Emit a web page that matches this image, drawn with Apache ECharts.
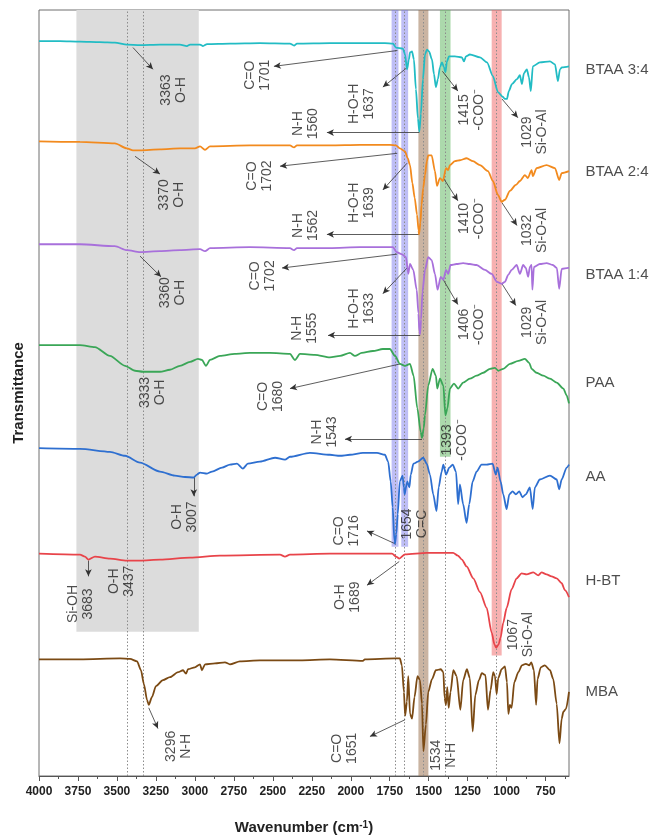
<!DOCTYPE html>
<html>
<head>
<meta charset="utf-8">
<script src="https://cdn.jsdelivr.net/npm/echarts@6/dist/echarts.min.js"></script>
<style>
  html, body { margin: 0; padding: 0; background: #fff; }
  #main { width: 652px; height: 840px; }
</style>
</head>
<body>
<div id="main"></div>
<script>
// FTIR spectra, stacked with vertical offsets: [wavenumber (cm-1), offset transmittance]
const btaa34 = [[4000,743.5],[3865,743.5],[3737,743],[3609,742.5],[3513,742],[3436,740],[3352,739.5],[3224,740],[3096,740],[3051,738.5],[3031,740],[2967,740],[2948,738.5],[2922,740.5],[2775,741],[2583,741.5],[2390,741],[2364,739],[2345,741],[2134,741.5],[1941,741.5],[1781,741.5],[1729,741],[1710,737],[1665,736],[1652,730],[1639,715],[1627,725],[1620,732],[1607,733],[1595,725],[1582,695],[1569,665],[1560,652],[1550,670],[1537,705],[1524,730],[1511,735],[1498,733],[1479,725],[1466,710],[1454,697],[1441,705],[1428,717],[1415,722],[1402,717],[1393,712],[1383,723],[1370,728],[1332,728],[1287,727],[1274,723],[1261,728],[1236,730],[1171,727],[1126,722],[1088,708],[1056,692],[1024,687],[1011,685],[998,685],[986,693],[966,700],[934,705],[915,709],[902,700],[889,711],[870,715],[857,707],[845,693],[832,718],[787,722],[722,723],[690,720],[671,703],[658,715],[645,717],[600,718]];

const btaa24 = [[4000,642],[3737,641.5],[3513,640],[3436,635],[3397,633],[3352,633],[3224,634],[3096,635],[3000,635],[2967,637],[2935,633.5],[2903,637],[2647,638],[2390,638],[2364,636],[2345,638],[2134,638],[1941,638.5],[1749,638.5],[1710,638],[1685,635],[1652,632],[1635,625],[1620,618],[1605,600],[1590,585],[1575,568],[1565,552],[1562,548],[1553,560],[1546,578],[1535,595],[1524,608],[1512,622],[1503,628],[1481,628],[1460,612],[1447,597],[1428,605],[1409,602],[1389,615],[1375,613],[1364,618],[1332,622],[1300,623],[1257,625],[1216,622],[1171,618],[1120,612],[1088,602],[1056,588],[1032,581],[1011,583],[979,592],[941,598],[915,602],[883,608],[864,605],[840,613],[832,607],[808,615],[744,618],[690,615],[663,603],[647,610],[600,612]];

const btaa14 = [[4000,538],[3737,538],[3513,536],[3436,532],[3352,530],[3224,531],[3096,532],[2967,533],[2935,531],[2903,534],[2647,535],[2390,534],[2364,532],[2345,534],[2134,534],[1941,535],[1729,535],[1706,530],[1674,528],[1646,525],[1631,508],[1620,518],[1599,512],[1577,492],[1566,468],[1560,450],[1555,447],[1549,462],[1540,490],[1524,512],[1503,525],[1481,522],[1460,508],[1443,492],[1423,505],[1406,502],[1389,512],[1375,508],[1360,517],[1322,518],[1279,519],[1236,518],[1193,517],[1139,512],[1096,508],[1062,500],[1032,498],[1011,500],[990,507],[968,512],[936,517],[915,508],[894,517],[877,514],[862,505],[851,515],[840,517],[835,492],[825,515],[787,518],[744,519],[704,517],[678,514],[663,493],[647,513],[605,514],[600,514]];

const paa = [[4000,436],[3737,436],[3641,434],[3545,425],[3448,415],[3384,410],[3333,409],[3224,409],[3160,411],[3096,415],[3031,419],[2980,422],[2955,421],[2929,415],[2903,421],[2839,425],[2743,427],[2647,428],[2519,428],[2390,427],[2358,421],[2326,427],[2230,426],[2134,423.5],[2069,425],[2005,428],[1973,425],[1930,428],[1858,430],[1794,432],[1749,432],[1716,425],[1685,417],[1652,415],[1620,417],[1597,405],[1573,372],[1551,348],[1543,342],[1532,352],[1524,365],[1503,395],[1475,412],[1454,405],[1445,392],[1428,402],[1406,395],[1393,365],[1380,372],[1364,392],[1338,397],[1311,392],[1279,398],[1236,402],[1193,405],[1150,408],[1107,412],[1075,413],[1054,410],[1022,412],[979,417],[925,420],[883,422],[855,418],[840,412],[808,408],[765,405],[722,402],[679,398],[636,392],[615,385],[600,377]];

const aa = [[4000,331.7],[3737,331],[3545,328],[3448,324],[3352,317],[3224,308],[3128,304],[3064,302.5],[3007,302],[2987,305],[2967,307],[2922,306],[2890,308],[2826,312],[2775,315],[2730,316],[2692,311],[2660,316],[2583,318],[2486,322],[2422,320],[2390,323],[2262,327],[2134,325],[2069,324],[2005,325],[1922,327],[1832,327],[1781,325],[1760,318],[1744,298],[1731,272],[1720,238],[1716,235],[1708,245],[1699,265],[1685,298],[1668,304],[1659,292],[1654,285],[1650,285],[1637,298],[1624,292],[1615,305],[1598,316],[1569,318],[1535,322],[1513,316],[1492,305],[1471,285],[1450,268],[1436,292],[1417,308],[1406,315],[1389,305],[1368,312],[1346,315],[1325,308],[1311,275],[1300,295],[1279,275],[1257,256],[1240,275],[1218,298],[1193,308],[1161,315],[1128,315],[1090,316],[1070,305],[1058,312],[1039,298],[1022,285],[1000,270],[983,285],[962,288],[941,285],[919,288],[898,282],[877,285],[851,292],[833,270],[819,292],[787,300],[722,304],[679,300],[663,290],[647,300],[615,312],[600,315]];

const hbt = [[4000,225],[3737,224],[3705,222],[3683,219],[3641,222],[3545,220],[3437,218],[3352,218],[3224,219],[3031,221],[2839,223],[2454,224],[2422,222],[2390,224],[2134,225],[1736,225],[1706,221.7],[1689,220],[1652,224.3],[1513,225.7],[1343,225.7],[1313,223],[1287,219],[1257,212],[1214,200],[1171,186],[1128,170],[1096,145],[1078,133],[1067,130],[1052,133],[1039,140],[1022,155],[1000,170],[968,189],[936,200],[904,205],[872,204],[829,206],[797,203],[776,206],[744,204],[712,202],[679,200],[647,195],[626,188],[600,181]];

const mba = [[4000,118],[3737,118],[3480,119],[3416,118.5],[3371,116],[3346,107],[3327,93],[3307,77],[3296,72],[3275,80],[3250,91],[3205,97],[3160,100],[3108,105],[3076,107],[3057,103.5],[3044,108],[3000,110],[2967,113],[2955,107],[2935,113],[2871,114],[2807,115],[2775,113],[2711,116],[2583,117],[2326,117],[2134,118],[1922,116.5],[1910,118],[1710,119],[1685,119],[1672,112],[1659,85],[1651,61],[1640,75],[1631,101],[1620,63],[1607,58],[1591,80],[1572,101],[1556,97],[1543,73],[1534,25],[1518,52],[1503,85],[1479,98],[1454,107],[1422,108],[1406,105],[1398,79],[1389,72],[1381,90],[1372,69],[1360,85],[1342,107],[1321,101],[1297,67],[1279,97],[1255,108],[1236,99],[1218,45],[1201,82],[1178,97],[1159,104],[1136,102],[1120,67],[1103,87],[1086,105],[1075,101],[1064,83],[1054,99],[1032,108],[1011,111],[998,95],[989,63],[979,72],[968,69],[951,95],[925,105],[902,112],[877,113.5],[855,112],[842,115],[825,107],[811,72],[802,98],[781,110],[755,112],[722,107],[701,98],[679,73],[661,33],[647,58],[636,65],[619,68],[600,85]];

const sampleNames = ['BTAA 3:4', 'BTAA 2:4', 'BTAA 1:4', 'PAA', 'AA', 'H-BT', 'MBA'];
const sampleData = [btaa34, btaa24, btaa14, paa, aa, hbt, mba];
const sampleColors = ['#22bcc4', '#f28a1e', '#a870db', '#3aa657', '#2e6fd0', '#e8444a', '#7b4a14'];
// vertical level of each sample name, in the offset transmittance scale
const sampleNameLevels = [714, 611, 507, 398, 302.5, 197, 85];

// x-axis tick labels
const tickLabels = [750, 1000, 1250, 1500, 1750, 2000, 2250, 2500, 2750, 3000, 3250, 3500, 3750, 4000];
const minorTicks = [625, 875, 1125, 1375, 1625, 1875, 2125, 2375, 2625, 2875, 3125, 3375, 3625, 3875];

// reference wavenumbers marked with dotted lines
const refLines = [3437, 3333, 1716, 1654, 1534, 1393, 1067];

// highlighted bands: [from wn, to wn, lower level, upper level]
const greyBand = [3760, 2975, 146, 775];
const colourBands = [
  [1738, 1694, 232, 775],
  [1676, 1632, 232, 775],
  [1566, 1502, 0, 775],
  [1428, 1360, 323, 775],
  [1096, 1032, 122, 775]
];
const bandColours = ['rgba(110,110,235,0.45)', 'rgba(110,110,235,0.45)', 'rgba(150,105,70,0.5)', 'rgba(90,180,90,0.5)', 'rgba(240,100,100,0.5)'];

// peak assignments: [wn, level, text]
const peakNotes = [
  [3134, 694, '3363\nO-H'], [2595, 709, 'C=O\n1701'], [2287, 660, 'N-H\n1560'], [1931, 680, 'H-O-H\n1637'],
  [1223, 674, '1415\n-COO\u207B'], [819, 651.5, '1029\nSi-O-Al'],
  [3147, 588, '3370\nO-H'], [2582, 607, 'C=O\n1702'], [2287, 557, 'N-H\n1562'], [1931, 580, 'H-O-H\n1639'],
  [1223, 564, '1410\n-COO\u207B'], [819, 552, '1032\nSi-O-Al'],
  [3140, 489, '3360\nO-H'], [2563, 506, 'C=O\n1702'], [2294, 453, 'N-H\n1555'], [1928, 473, 'H-O-H\n1633'],
  [1223, 457, '1406\n-COO\u207B'], [819, 459, '1029\nSi-O-Al'],
  [3269, 388, '3333\nO-H'], [2512, 384, 'C=O\n1680'], [2166, 348, 'N-H\n1543'], [1332, 340, '1393\n-COO\u207B'],
  [3064, 262, 'O-H\n3007'], [2024, 248, 'C=O\n1716'], [1588, 255, '1654\nC=C'],
  [3731, 174, 'Si-OH\n3683'], [3468, 197, 'O-H\n3437'], [2018, 181, 'O-H\n1689'], [908, 143, '1067\nSi-O-Al'],
  [3102, 30, '3296\nN-H'], [2037, 28, 'C=O\n1651'], [1402, 21, '1534\nN-H']
];

// leader arrows from a peak to its note: [from wn, from level, to wn, to level]
const noteArrows = [
  [3397, 737, 3269, 715], [1701, 734, 2493, 718], [1560, 651, 2153, 651], [1637, 717, 1794, 697],
  [1412, 713, 1313, 693], [1030, 685, 928, 666],
  [3384, 627, 3224, 609], [1702, 630, 2454, 617], [1562, 548, 2153, 548], [1639, 620, 1794, 593],
  [1406, 605, 1313, 582], [1030, 580, 934, 557],
  [3352, 526, 3217, 505], [1702, 528, 2441, 514], [1555, 446, 2146, 446], [1633, 515, 1794, 488],
  [1406, 502, 1313, 477], [1030, 498, 941, 476],
  [1680, 417, 2390, 392], [1543, 341, 2037, 341],
  [3007, 303, 3007, 283], [1716, 235, 1896, 248],
  [3683, 218, 3683, 202], [1689, 217, 1896, 193],
  [3296, 69, 3237, 48], [1651, 57, 1877, 40]
];

const FONT = 'Liberation Sans, Arial, Helvetica, sans-serif';

const chart = echarts.init(document.getElementById('main'), null, { renderer: 'canvas' });

const spectrumSeries = sampleNames.map((name, i) => ({
  name: name,
  type: 'line',
  data: sampleData[i],
  showSymbol: false,
  smooth: 0.25,
  smoothMonotone: 'x',
  lineStyle: { color: sampleColors[i], width: 1.8 },
  itemStyle: { color: sampleColors[i] },
  z: 5
}));

const option = {
  animation: false,
  backgroundColor: '#ffffff',
  grid: { left: 39, right: 83, top: 10, bottom: 55, show: true, borderColor: '#6e6e6e', borderWidth: 1, backgroundColor: 'transparent' },
  xAxis: [
    {
      type: 'value', inverse: true, min: 600, max: 4000,
      name: 'Wavenumber (cm{sup|-1})', nameLocation: 'middle', nameGap: 44,
      nameTextStyle: {
        fontFamily: FONT, fontWeight: 'bold', fontSize: 15, color: '#222',
        rich: { sup: { fontFamily: FONT, fontWeight: 'bold', fontSize: 10, color: '#222', verticalAlign: 'top' } }
      },
      axisLine: { show: true, lineStyle: { color: '#555', width: 1 } },
      axisTick: { show: true, customValues: tickLabels, length: 5, lineStyle: { color: '#555' } },
      axisLabel: {
        customValues: tickLabels, formatter: v => String(v),
        fontFamily: FONT, fontWeight: 'bold', fontSize: 12, color: '#222', margin: 10
      },
      splitLine: { show: false }
    },
    {
      type: 'value', inverse: true, min: 600, max: 4000, position: 'bottom',
      axisLine: { show: false },
      axisTick: { show: true, customValues: minorTicks, length: 3, lineStyle: { color: '#555' } },
      axisLabel: { show: false },
      splitLine: { show: false }
    }
  ],
  yAxis: {
    type: 'value', min: 0, max: 775,
    name: 'Transmittance', nameLocation: 'middle', nameGap: 13,
    nameTextStyle: { fontFamily: FONT, fontWeight: 'bold', fontSize: 15, color: '#222' },
    axisLine: { show: false }, axisTick: { show: false }, axisLabel: { show: false }, splitLine: { show: false }
  },
  series: [
    {
      name: 'bands', type: 'line', data: [], z: 1, silent: true,
      markArea: {
        silent: true,
        data: [[{ xAxis: greyBand[0], yAxis: greyBand[2], itemStyle: { color: '#dcdcdc' } }, { xAxis: greyBand[1], yAxis: greyBand[3] }]]
          .concat(colourBands.map((b, i) => [{ xAxis: b[0], yAxis: b[2], itemStyle: { color: bandColours[i] } }, { xAxis: b[1], yAxis: b[3] }]))
      },
      markLine: {
        silent: true, symbol: ['none', 'none'], label: { show: false },
        lineStyle: { color: '#8c8c8c', type: [1.5, 2], width: 1 },
        data: refLines.map(v => ({ xAxis: v }))
      }
    },
    ...spectrumSeries,
    {
      name: 'arrows', type: 'line', data: [], z: 6, silent: true,
      markLine: {
        silent: true, symbol: ['none', 'arrow'], symbolSize: [5, 7], label: { show: false },
        lineStyle: { color: '#333', type: 'solid', width: 0.8 },
        data: noteArrows.map(a => [{ coord: [a[0], a[1]] }, { coord: [a[2], a[3]] }])
      }
    },
    {
      name: 'notes', type: 'scatter', z: 7, silent: true, clip: false,
      symbolSize: 1, itemStyle: { color: 'rgba(0,0,0,0)' },
      data: peakNotes,
      label: {
        show: true, position: 'inside', rotate: 90,
        formatter: p => p.data[2],
        fontFamily: FONT, fontSize: 14, lineHeight: 15, color: '#222',
        align: 'center', verticalAlign: 'middle'
      }
    },
    {
      name: 'names', type: 'scatter', z: 7, silent: true, clip: false,
      symbolSize: 1, itemStyle: { color: 'rgba(0,0,0,0)' },
      data: sampleNames.map((n, i) => [600, sampleNameLevels[i], n]),
      label: {
        show: true, position: 'right', distance: 16,
        formatter: p => p.data[2],
        fontFamily: FONT, fontSize: 15, color: '#222'
      }
    }
  ]
};

chart.setOption(option);
</script>
</body>
</html>
